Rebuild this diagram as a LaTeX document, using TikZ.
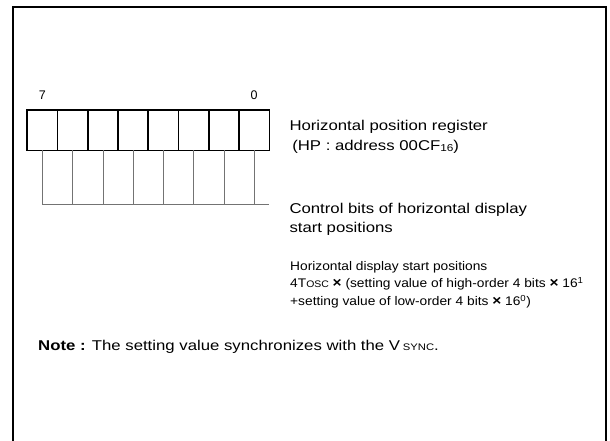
\documentclass[tikz,border=0pt]{standalone}
\usepackage{fontspec}
\setmainfont{Liberation Sans}
\newcommand{\wide}[1]{\scalebox{1.18}[1]{#1}}
\newcommand{\widesmall}[1]{\scalebox{1.1}[1]{#1}}
\newcommand{\lowsub}[1]{\raisebox{-1pt}{\fontsize{10}{10}\selectfont #1}}
\newcommand{\smallup}[1]{{\fontsize{9.5}{9.5}\selectfont #1}}
\newcommand{\heavyx}{{\fontsize{14}{14}\selectfont\bfseries ×}}
\begin{document}
\begin{tikzpicture}[x=1pt, y=-1pt,
    bit/.style={draw, line width=1.6pt, minimum width=30.25pt, minimum height=40.5pt, inner sep=0pt, outer sep=0pt},
    tap/.style={draw=black!55, line width=0.8pt},
    frame/.style={line width=2.2pt},
    num/.style={inner sep=0pt, anchor=base, font=\fontsize{12.5}{14}\selectfont},
    desc/.style={inner sep=0pt, anchor=base west, align=left, font=\fontsize{14.2}{19.5}\selectfont},
    detail/.style={inner sep=0pt, anchor=base west, align=left, font=\fontsize{12.5}{17.8}\selectfont}
]
\useasboundingbox (0,0) rectangle (610,441);

% ---- frame ----
\draw[frame] (13,441) -- (13,6.7) -- (606,6.7) -- (606,441);

% ---- register bits ----
\node[bit] (b7) at (42.4,130.2) {};
\node[bit] (b6) at (72.7,130.2) {};
\node[bit] (b5) at (102.9,130.2) {};
\node[bit] (b4) at (133.2,130.2) {};
\node[bit] (b3) at (163.4,130.2) {};
\node[bit] (b2) at (193.7,130.2) {};
\node[bit] (b1) at (223.9,130.2) {};
\node[bit] (b0) at (254.2,130.2) {};

\node[num] (n7) at (42.4,100) {7};
\node[num] (n0) at (254.2,100) {0};

% ---- tap lines ----
\coordinate (t7) at (42.4,204);
\coordinate (t6) at (72.7,204);
\coordinate (t5) at (102.9,204);
\coordinate (t4) at (133.2,204);
\coordinate (t3) at (163.4,204);
\coordinate (t2) at (193.7,204);
\coordinate (t1) at (223.9,204);
\coordinate (t0) at (254.2,204);
\coordinate (tend) at (269.3,204);

\draw[tap] (b7.south) -- (t7);
\draw[tap] (b6.south) -- (t6);
\draw[tap] (b5.south) -- (t5);
\draw[tap] (b4.south) -- (t4);
\draw[tap] (b3.south) -- (t3);
\draw[tap] (b2.south) -- (t2);
\draw[tap] (b1.south) -- (t1);
\draw[tap] (b0.south) -- (t0);
\draw[tap] (t7) -- (tend);

% ---- texts (anchored at the baseline of the last line) ----
\node[desc] (hpreg) at (289.3,150) {\wide{Horizontal position register}\\\wide{\,(HP : address 00CF\lowsub{16})}};
\node[desc] (ctrl) at (289.3,232.5) {\wide{Control bits of horizontal display}\\\wide{start positions}};
\node[detail] (calc) at (290,305.7) {\widesmall{Horizontal display start positions}\\
  \widesmall{4T\smallup{OSC} \heavyx{} (setting value of high-order 4 bits \heavyx{} 16\textsuperscript{1}}\\
  \widesmall{+setting value of low-order 4 bits \heavyx{} 16\textsuperscript{0})}};
\node[desc] (note) at (38,350) {\wide{\textbf{Note :} The setting value synchronizes with the V\,\smallup{SYNC}.}};

\end{tikzpicture}
\end{document}
